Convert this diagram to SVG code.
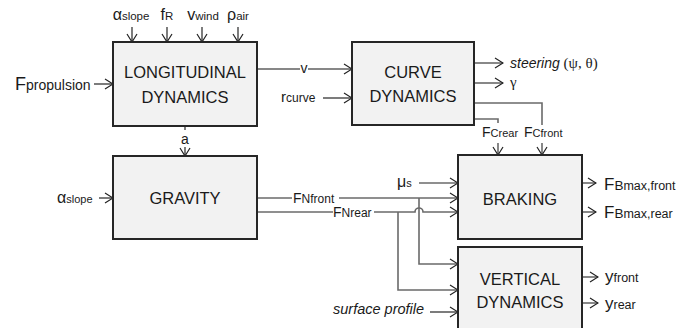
<svg xmlns="http://www.w3.org/2000/svg" width="679" height="328" viewBox="0 0 679 328">
<defs>
<marker id="arr" markerUnits="userSpaceOnUse" markerWidth="10" markerHeight="12" viewBox="0 0 10 12" refX="9" refY="6" orient="auto">
<path d="M1,1 L9,6 L1,11" fill="none" stroke="#222" stroke-width="1.2"/>
</marker>
<style>
.box{fill:#f2f2f2;stroke:#262626;stroke-width:2}
.title{font-family:"Liberation Sans",Arial,sans-serif;font-size:16.5px;fill:#1a1a1a;text-anchor:middle}
.lbl{font-family:"Liberation Sans",Arial,sans-serif;fill:#1a1a1a}
.ser{font-family:"Liberation Serif","Times New Roman",serif;fill:#1a1a1a}
.in{fill:none;stroke:#111;stroke-width:1.1}
.gr{fill:none;stroke:#6a6a6a;stroke-width:1.6}
</style>
</defs>
<rect width="679" height="328" fill="#fff"/>

<g id="connectors">
<line class="in" x1="94" y1="84" x2="113" y2="84" marker-end="url(#arr)"/>
<line class="in" x1="132" y1="27" x2="132" y2="42" marker-end="url(#arr)"/>
<line class="in" x1="167" y1="27" x2="167" y2="42" marker-end="url(#arr)"/>
<line class="in" x1="202" y1="27" x2="202" y2="42" marker-end="url(#arr)"/>
<line class="in" x1="238" y1="27" x2="238" y2="42" marker-end="url(#arr)"/>
<line class="in" x1="257" y1="69" x2="300" y2="69"/>
<line class="in" x1="308" y1="69" x2="352" y2="69" marker-end="url(#arr)"/>
<line class="in" x1="323" y1="98" x2="352" y2="98" marker-end="url(#arr)"/>
<line class="in" x1="185" y1="126" x2="185" y2="130"/>
<line class="in" x1="185" y1="147" x2="185" y2="156" marker-end="url(#arr)"/>
<line class="in" x1="99" y1="198" x2="113" y2="198" marker-end="url(#arr)"/>
<line class="gr" x1="474" y1="63" x2="503" y2="63" marker-end="url(#arr)"/>
<line class="gr" x1="474" y1="83" x2="503" y2="83" marker-end="url(#arr)"/>
<polyline class="gr" points="474,103 542,103 542,125"/>
<line class="gr" x1="542" y1="143" x2="542" y2="155" marker-end="url(#arr)"/>
<polyline class="gr" points="474,119 498,119 498,123"/>
<line class="gr" x1="498" y1="143" x2="498" y2="155" marker-end="url(#arr)"/>
<line class="gr" x1="257" y1="198" x2="292" y2="198"/>
<line class="gr" x1="339" y1="198" x2="458" y2="198" marker-end="url(#arr)"/>
<line class="gr" x1="257" y1="212" x2="333" y2="212"/>
<path class="gr" d="M374,212 H415 A4,4 0 0 1 423,212 H458" marker-end="url(#arr)"/>
<line class="gr" x1="419" y1="183" x2="458" y2="183" marker-end="url(#arr)"/>
<polyline class="gr" points="419,198 419,264 458,264" marker-end="url(#arr)"/>
<polyline class="gr" points="398,212 398,290 458,290" marker-end="url(#arr)"/>
<line class="in" x1="430" y1="312" x2="458" y2="312" marker-end="url(#arr)"/>
<line class="gr" x1="582" y1="183" x2="596" y2="183" marker-end="url(#arr)"/>
<line class="gr" x1="582" y1="212" x2="596" y2="212" marker-end="url(#arr)"/>
<line class="gr" x1="582" y1="277" x2="598" y2="277" marker-end="url(#arr)"/>
<line class="gr" x1="582" y1="303" x2="598" y2="303" marker-end="url(#arr)"/>
</g>

<g id="longitudinal">
<rect class="box" x="113" y="42" width="144" height="84"/>
<text class="title" x="185" y="78">LONGITUDINAL</text>
<text class="title" x="185" y="103">DYNAMICS</text>
</g>
<g id="curve">
<rect class="box" x="352" y="42" width="122" height="83"/>
<text class="title" x="413" y="78">CURVE</text>
<text class="title" x="413" y="102">DYNAMICS</text>
</g>
<g id="gravity">
<rect class="box" x="113" y="156" width="144" height="83"/>
<text class="title" x="185" y="204">GRAVITY</text>
</g>
<g id="braking">
<rect class="box" x="458" y="155" width="124" height="84"/>
<text class="title" x="520" y="205">BRAKING</text>
</g>
<g id="vertical">
<rect class="box" x="458" y="247" width="124" height="95"/>
<text class="title" x="520" y="285">VERTICAL</text>
<text class="title" x="520" y="308">DYNAMICS</text>
</g>

<g id="labels">
<text class="lbl" x="15" y="90" font-size="18">F<tspan font-size="14">propulsion</tspan></text>
<text class="lbl" x="131" y="20" font-size="16" text-anchor="middle">α<tspan font-size="11.5">slope</tspan></text>
<text class="lbl" x="167" y="20" font-size="16" text-anchor="middle">f<tspan font-size="11.5">R</tspan></text>
<text class="lbl" x="203" y="20" font-size="16" text-anchor="middle">v<tspan font-size="11.5">wind</tspan></text>
<text class="lbl" x="238" y="20" font-size="16" text-anchor="middle">ρ<tspan font-size="11.5">air</tspan></text>
<text class="lbl" x="304" y="73" font-size="14" text-anchor="middle">v</text>
<text class="lbl" x="281" y="102" font-size="15">r<tspan font-size="12">curve</tspan></text>
<text class="lbl" x="185" y="144" font-size="14" text-anchor="middle">a</text>
<text class="lbl" x="57" y="203" font-size="16">α<tspan font-size="11">slope</tspan></text>
<text class="lbl" x="510" y="68" font-size="14" font-style="italic">steering<tspan class="ser" font-style="normal" font-size="15"> (ψ, θ)</tspan></text>
<text class="ser" x="510" y="87" font-size="15">γ</text>
<text class="lbl" x="482" y="137" font-size="14">F<tspan font-size="11">Crear</tspan></text>
<text class="lbl" x="524" y="137" font-size="14">F<tspan font-size="11">Cfront</tspan></text>
<text class="lbl" x="293" y="203" font-size="14">F<tspan font-size="12">Nfront</tspan></text>
<text class="lbl" x="333" y="217" font-size="14">F<tspan font-size="12">Nrear</tspan></text>
<text class="lbl" x="397" y="187" font-size="16">μ<tspan font-size="11">s</tspan></text>
<text class="lbl" x="333" y="314" font-size="14.5" font-style="italic">surface profile</text>
<text class="lbl" x="604" y="190" font-size="17">F<tspan font-size="13.5">B</tspan><tspan font-size="12.5">max,front</tspan></text>
<text class="lbl" x="604" y="218" font-size="17">F<tspan font-size="13.5">B</tspan><tspan font-size="12.5">max,rear</tspan></text>
<text class="lbl" x="605" y="282" font-size="17">y<tspan font-size="12.5">front</tspan></text>
<text class="lbl" x="605" y="309" font-size="17">y<tspan font-size="12.5">rear</tspan></text>
</g>
</svg>
